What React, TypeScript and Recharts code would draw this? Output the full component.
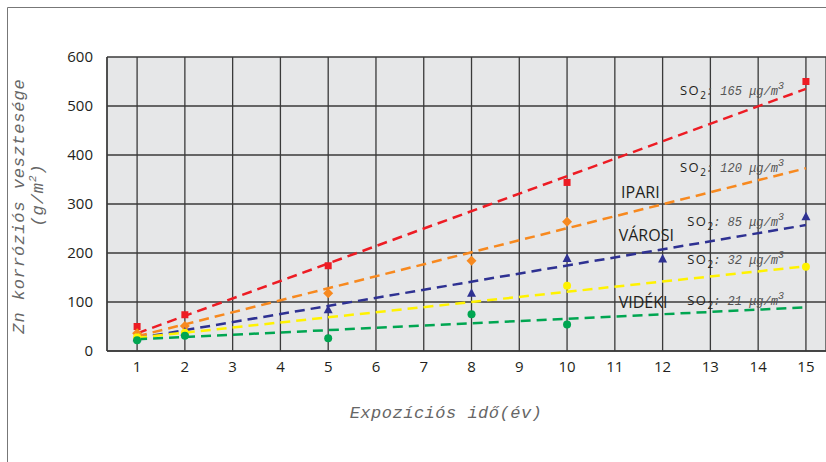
import { ComposedChart, Line, Scatter, XAxis, YAxis, CartesianGrid, ReferenceDot } from 'recharts';

// measured points, one list per SO2 level
const ipariYears = [1, 2, 5, 10, 15];
const ipariLoss = [50, 74, 174, 344, 550];
const varosi120Years = [1, 2, 5, 8, 10];
const varosi120Loss = [36, 51, 118, 184, 264];
const varosi85Years = [1, 2, 5, 8, 10, 12, 15];
const varosi85Loss = [27, 39, 84, 118, 189, 188, 274];
const videki32Years = [1, 2, 10, 15];
const videki32Loss = [28, 37, 133, 172];
const videki21Years = [1, 2, 5, 8, 10];
const videki21Loss = [22, 31, 26, 75, 54];

// fitted trend lines (start / end)
const trendYears = [1, 15];
const trend165 = [36, 535];
const trend120 = [30, 373];
const trend85 = [26, 257];
const trend32 = [27, 173];
const trend21 = [24, 89];

const xTicks = [1, 2, 3, 4, 5, 6, 7, 8, 9, 10, 11, 12, 13, 14, 15];
const yTicks = [0, 100, 200, 300, 400, 500, 600];

const so2Levels = ['165', '120', '85', '32', '21'];
const so2LabelPos = [
  { x: 14.54, y: 522 },
  { x: 14.54, y: 365 },
  { x: 14.54, y: 255 },
  { x: 14.54, y: 178 },
  { x: 14.54, y: 94 },
];
const zoneNames = ['IPARI', 'VÁROSI', 'VIDÉKI'];
const zonePos = [
  { x: 11.13, y: 312 },
  { x: 11.08, y: 224 },
  { x: 11.08, y: 88 },
];

const pts = (xs: number[], ys: number[]) => xs.map((x, i) => ({ x, y: ys[i] }));

const mono = '"Liberation Mono", "DejaVu Sans Mono", monospace';
const sans = '"Open Sans", "Noto Sans", sans-serif';
const dash = '10 6';
const gridColor = '#3a3a3a';

const Square = (p: any) => <rect x={p.cx - 3.5} y={p.cy - 3.5} width={7} height={7} fill="#ed1c24" />;
const Diamond = (p: any) => (
  <polygon points={`${p.cx},${p.cy - 5} ${p.cx + 5},${p.cy} ${p.cx},${p.cy + 5} ${p.cx - 5},${p.cy}`} fill="#f7891f" />
);
const Triangle = (p: any) => (
  <polygon points={`${p.cx},${p.cy - 5} ${p.cx + 4.5},${p.cy + 3.5} ${p.cx - 4.5},${p.cy + 3.5}`} fill="#2e3192" />
);
const dot = (color: string) => (p: any) => <circle cx={p.cx} cy={p.cy} r={4} fill={color} />;

const So2Label = (level: string) => (p: any) => (
  <text x={p.cx} y={p.cy} textAnchor="end" fill="#555">
    <tspan fontFamily={sans} fontSize={13} fill="#231f20" letterSpacing={1.5}>SO</tspan>
    <tspan fontFamily={sans} fontSize={10} fill="#231f20" dy={4}>2</tspan>
    <tspan fontFamily={mono} fontStyle="italic" fontSize={12} dy={-4}>{`: ${level} μg/m`}</tspan>
    <tspan fontFamily={mono} fontStyle="italic" fontSize={10} dy={-6}>3</tspan>
  </text>
);

const ZoneLabel = (name: string) => (p: any) => (
  <text x={p.cx} y={p.cy} fontFamily={sans} fontSize={16} fill="#231f20">{name}</text>
);

export default function App() {
  return (
    <div style={{ position: 'absolute', left: 0, top: 0, width: 826, height: 462, background: '#fff', overflow: 'hidden' }}>
      <ComposedChart width={826} height={462} margin={{ top: 57, right: 0, bottom: 81, left: 47 }}>
        <CartesianGrid fill="#e6e7e8" stroke={gridColor} strokeWidth={1.3} />
        <XAxis
          type="number"
          dataKey="x"
          domain={[0.37, 15.42]}
          ticks={xTicks}
          height={30}
          tickLine={false}
          axisLine={{ stroke: gridColor, strokeWidth: 1.3 }}
          tick={{ fill: '#231f20', fontSize: 15, fontFamily: sans }}
          tickMargin={4}
        />
        <YAxis
          type="number"
          dataKey="y"
          domain={[0, 600]}
          ticks={yTicks}
          width={60}
          tickLine={false}
          axisLine={{ stroke: gridColor, strokeWidth: 1.3 }}
          tick={{ fill: '#231f20', fontSize: 15, fontFamily: sans }}
          tickMargin={8}
        />
        <Line data={pts(trendYears, trend165)} dataKey="y" stroke="#ed1c24" strokeWidth={2.5} strokeDasharray={dash} dot={false} isAnimationActive={false} />
        <Line data={pts(trendYears, trend120)} dataKey="y" stroke="#f7891f" strokeWidth={2.5} strokeDasharray={dash} dot={false} isAnimationActive={false} />
        <Line data={pts(trendYears, trend85)} dataKey="y" stroke="#2e3192" strokeWidth={2.5} strokeDasharray={dash} dot={false} isAnimationActive={false} />
        <Line data={pts(trendYears, trend32)} dataKey="y" stroke="#fff200" strokeWidth={2.5} strokeDasharray={dash} dot={false} isAnimationActive={false} />
        <Line data={pts(trendYears, trend21)} dataKey="y" stroke="#00a651" strokeWidth={2.5} strokeDasharray={dash} dot={false} isAnimationActive={false} />
        <Scatter data={pts(ipariYears, ipariLoss)} shape={Square} isAnimationActive={false} />
        <Scatter data={pts(varosi120Years, varosi120Loss)} shape={Diamond} isAnimationActive={false} />
        <Scatter data={pts(varosi85Years, varosi85Loss)} shape={Triangle} isAnimationActive={false} />
        <Scatter data={pts(videki32Years, videki32Loss)} shape={dot('#fff200')} isAnimationActive={false} />
        <Scatter data={pts(videki21Years, videki21Loss)} shape={dot('#00a651')} isAnimationActive={false} />
        {so2Levels.map((lv, i) => (
          <ReferenceDot key={lv} x={so2LabelPos[i].x} y={so2LabelPos[i].y} r={0} ifOverflow="visible" shape={So2Label(lv)} />
        ))}
        {zoneNames.map((nm, i) => (
          <ReferenceDot key={nm} x={zonePos[i].x} y={zonePos[i].y} r={0} ifOverflow="visible" shape={ZoneLabel(nm)} />
        ))}
      </ComposedChart>
      <svg width={826} height={462} style={{ position: 'absolute', left: 0, top: 0, pointerEvents: 'none' }}>
        <path d="M7.5,462 L7.5,7.5 L826,7.5" fill="none" stroke="#777" strokeWidth={1} />
        <text x={24} y={206} transform="rotate(-90 24 206)" textAnchor="middle" fontFamily={mono} fontStyle="italic" fontSize={17} letterSpacing={0.9} fill="#666">
          Zn korróziós vesztesége
        </text>
        <text x={43} y={195} transform="rotate(-90 43 195)" textAnchor="middle" fontFamily={mono} fontStyle="italic" fontSize={17} letterSpacing={0.9} fill="#666">
          (g/m<tspan fontSize={11} dy={-7}>2</tspan><tspan dy={7}>)</tspan>
        </text>
        <text x={446} y={418} textAnchor="middle" fontFamily={mono} fontStyle="italic" fontSize={17} letterSpacing={0.5} fill="#666">
          Expozíciós idő(év)
        </text>
      </svg>
    </div>
  );
}
